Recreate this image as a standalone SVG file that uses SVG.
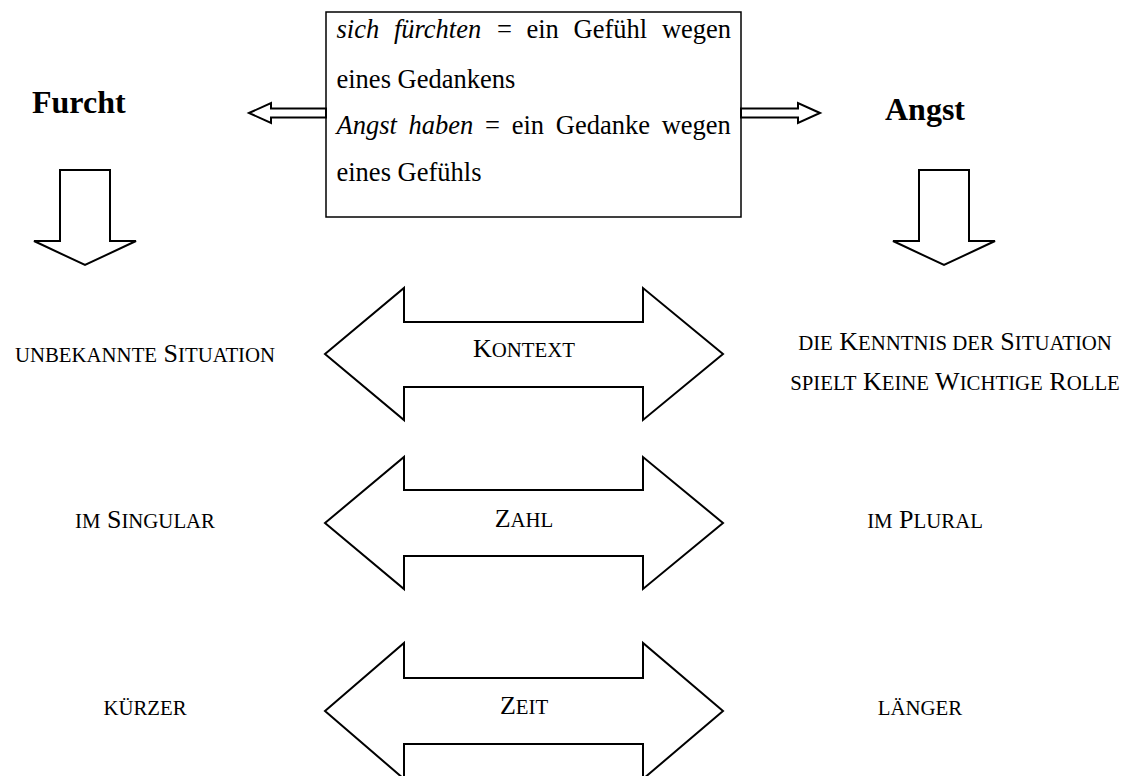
<svg xmlns="http://www.w3.org/2000/svg" width="1123" height="776" viewBox="0 0 1123 776">
<style>
.shape{fill:#fff;stroke:#000;stroke-width:2;stroke-linejoin:miter}
.box{fill:#fff;stroke:#000;stroke-width:1.5}
.t{font-family:"Liberation Serif","Times New Roman",serif;font-size:26.5px;fill:#000}
.i{font-style:italic}
.title{font-family:"Liberation Serif","Times New Roman",serif;font-size:32px;font-weight:bold;fill:#000}
.sc{font-family:"Liberation Serif","Times New Roman",serif;font-size:26px;fill:#000}
.s{font-size:20.8px}
</style>
<rect width="1123" height="776" fill="#fff"/>

<g id="definition-box">
<rect class="box" x="326" y="12" width="415" height="205"/>
<text class="t" y="38"><tspan class="i" x="336.5">sich</tspan><tspan class="i" x="393.9">fürchten</tspan><tspan x="496.9">=</tspan><tspan x="526.5">ein</tspan><tspan x="573.6">Gefühl</tspan><tspan x="661.9">wegen</tspan></text>
<text class="t" x="336.5" y="88">eines Gedankens</text>
<text class="t" y="134"><tspan class="i" x="336.5">Angst</tspan><tspan class="i" x="408.6">haben</tspan><tspan x="485.1">=</tspan><tspan x="511.7">ein</tspan><tspan x="555.8">Gedanke</tspan><tspan x="661.7">wegen</tspan></text>
<text class="t" x="336.5" y="181">eines Gefühls</text>
</g>

<g id="furcht"><text class="title" x="32" y="113">Furcht</text></g>
<g id="angst"><text class="title" x="885" y="120">Angst</text></g>

<g id="connectors">
<polygon class="shape" stroke-width="1.5" points="249,113 271,103 271,108.5 326,108.5 326,117.5 271,117.5 271,123"/>
<polygon class="shape" stroke-width="1.5" points="820,113 798,103 798,108.5 741,108.5 741,117.5 798,117.5 798,123"/>
<polygon class="shape" points="60,170 110,170 110,241 136,241 85,265 34,241 60,241"/>
<polygon class="shape" points="919,170 969,170 969,241 995,241 944,265 893,241 919,241"/>
</g>

<g id="kontext">
<polygon class="shape" points="325,354 404,288 404,322 643,322 643,288 723,354 643,420 643,387 404,387 404,420"/>
<text class="sc" x="524" y="357" text-anchor="middle">K<tspan class="s">ONTEXT</tspan></text>
</g>
<g id="zahl">
<polygon class="shape" points="325,523 404,457 404,490 643,490 643,457 723,523 643,589 643,556 404,556 404,589"/>
<text class="sc" x="524" y="527" text-anchor="middle">Z<tspan class="s">AHL</tspan></text>
</g>
<g id="zeit">
<polygon class="shape" points="325,711 404,643 404,678 643,678 643,643 723,711 643,779 643,744 404,744 404,779"/>
<text class="sc" x="524" y="714" text-anchor="middle">Z<tspan class="s">EIT</tspan></text>
</g>

<g id="furcht-context"><text class="sc" x="145" y="362" text-anchor="middle"><tspan class="s">UNBEKANNTE</tspan> S<tspan class="s">ITUATION</tspan></text></g>
<g id="angst-context">
<text class="sc" x="955" y="350" text-anchor="middle"><tspan class="s">DIE</tspan> K<tspan class="s">ENNTNIS DER</tspan> S<tspan class="s">ITUATION</tspan></text>
<text class="sc" x="955" y="390" text-anchor="middle"><tspan class="s">SPIELT</tspan> K<tspan class="s">EINE</tspan> W<tspan class="s">ICHTIGE</tspan> R<tspan class="s">OLLE</tspan></text>
</g>
<g id="furcht-number"><text class="sc" x="145" y="528" text-anchor="middle"><tspan class="s">IM</tspan> S<tspan class="s">INGULAR</tspan></text></g>
<g id="angst-number"><text class="sc" x="925" y="528" text-anchor="middle"><tspan class="s">IM</tspan> P<tspan class="s">LURAL</tspan></text></g>
<g id="furcht-time"><text class="sc" x="145" y="715" text-anchor="middle"><tspan class="s">KÜRZER</tspan></text></g>
<g id="angst-time"><text class="sc" x="920" y="715" text-anchor="middle"><tspan class="s">LÄNGER</tspan></text></g>
</svg>
